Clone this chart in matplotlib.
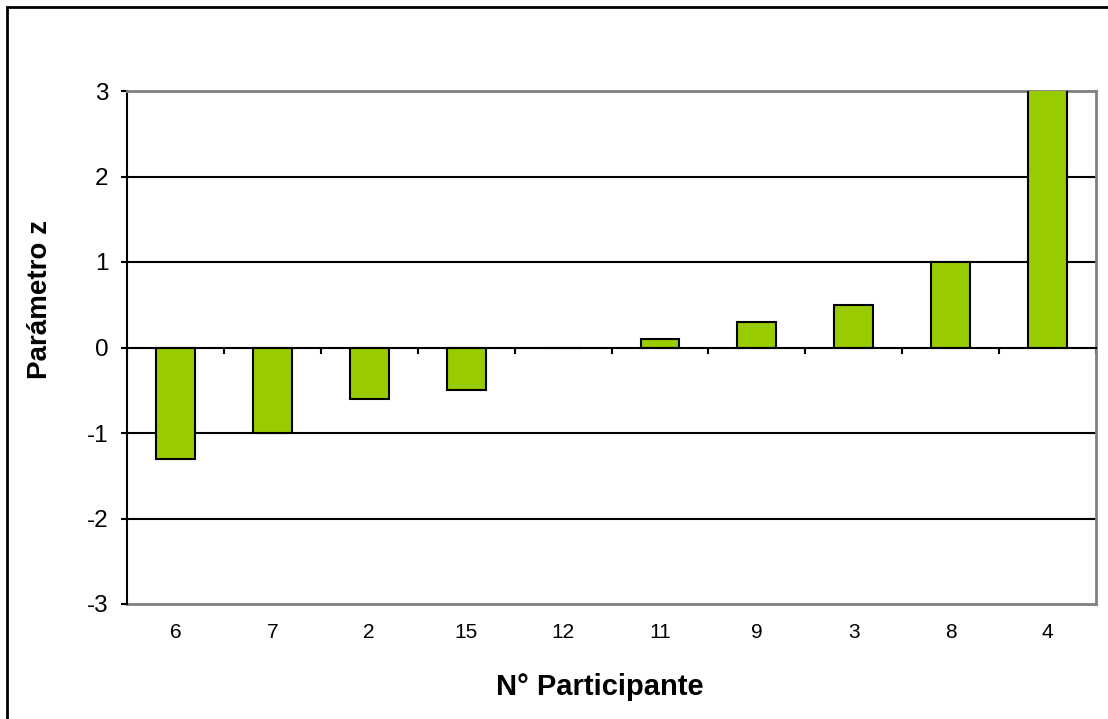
import matplotlib

matplotlib.use("Agg")
import matplotlib.pyplot as plt
from matplotlib.patches import Rectangle

participants = ["6", "7", "2", "15", "12", "11", "9", "3", "8", "4"]
z_scores = [-1.3, -1.0, -0.6, -0.5, 0.0, 0.1, 0.3, 0.5, 1.0, 3.2]
y_ticks = [-3, -2, -1, 0, 1, 2, 3]

BAR_GREEN = "#99cc00"
BORDER_GRAY = "#808080"

plt.rcParams["font.family"] = ["Liberation Sans", "DejaVu Sans"]

fig = plt.figure(figsize=(11.08, 7.19), dpi=100, facecolor="white")
ax = fig.add_axes([127 / 1108, 1 - 604 / 719, (1096 - 127) / 1108, (604 - 91) / 719])

x = list(range(len(participants)))
ax.bar(x, z_scores, width=0.4, color=BAR_GREEN, edgecolor="black",
       linewidth=1.5, zorder=3)

ax.set_xlim(-0.5, len(participants) - 0.5)
ax.set_ylim(y_ticks[0], y_ticks[-1])
ax.set_yticks(y_ticks)
ax.set_yticklabels([str(v) for v in y_ticks])

# horizontal gridlines (black), except where borders sit
for v in y_ticks:
    if v not in (y_ticks[0], 0, y_ticks[-1]):
        ax.axhline(v, color="black", linewidth=1.5, zorder=1)

# category axis crosses at zero, ticks between categories
ax.spines["bottom"].set_position(("data", 0))
ax.spines["bottom"].set_color("black")
ax.spines["bottom"].set_linewidth(1.5)
ax.spines["bottom"].set_zorder(4)
ax.set_xticks(x)
ax.set_xticklabels([])
ax.tick_params(axis="x", which="major", length=0)
ax.set_xticks([i - 0.5 for i in range(len(participants) + 1)], minor=True)
ax.tick_params(axis="x", which="minor", direction="out", length=4,
               width=1.5, color="black")

ax.spines["left"].set_color("black")
ax.spines["left"].set_linewidth(1.5)
ax.tick_params(axis="y", direction="out", length=4.5, width=1.5,
               color="black", labelsize=17.5, pad=9)

for side in ("top", "right"):
    ax.spines[side].set_color(BORDER_GRAY)
    ax.spines[side].set_linewidth(2)

# category labels along the bottom edge of the plot area
sec = ax.secondary_xaxis("bottom")
sec.set_xticks(x)
sec.set_xticklabels(participants)
sec.tick_params(axis="x", length=0, labelsize=15, pad=14)
sec.spines["bottom"].set_color(BORDER_GRAY)
sec.spines["bottom"].set_linewidth(2)

ax.set_ylabel("Parámetro z", fontsize=20, fontweight="bold")
ax.yaxis.set_label_coords(-0.076, 0.593)
ax.set_xlabel("N° Participante", fontsize=21, fontweight="bold")
ax.xaxis.set_label_coords(0.488, -0.134)

# outer chart frame
fig.patches.append(Rectangle((7 / 1108, -0.1), 1.2, 1 - 7 / 719 + 0.1,
                             transform=fig.transFigure, fill=False,
                             edgecolor="black", linewidth=2))

fig.savefig("out.png", dpi=100, facecolor="white")
